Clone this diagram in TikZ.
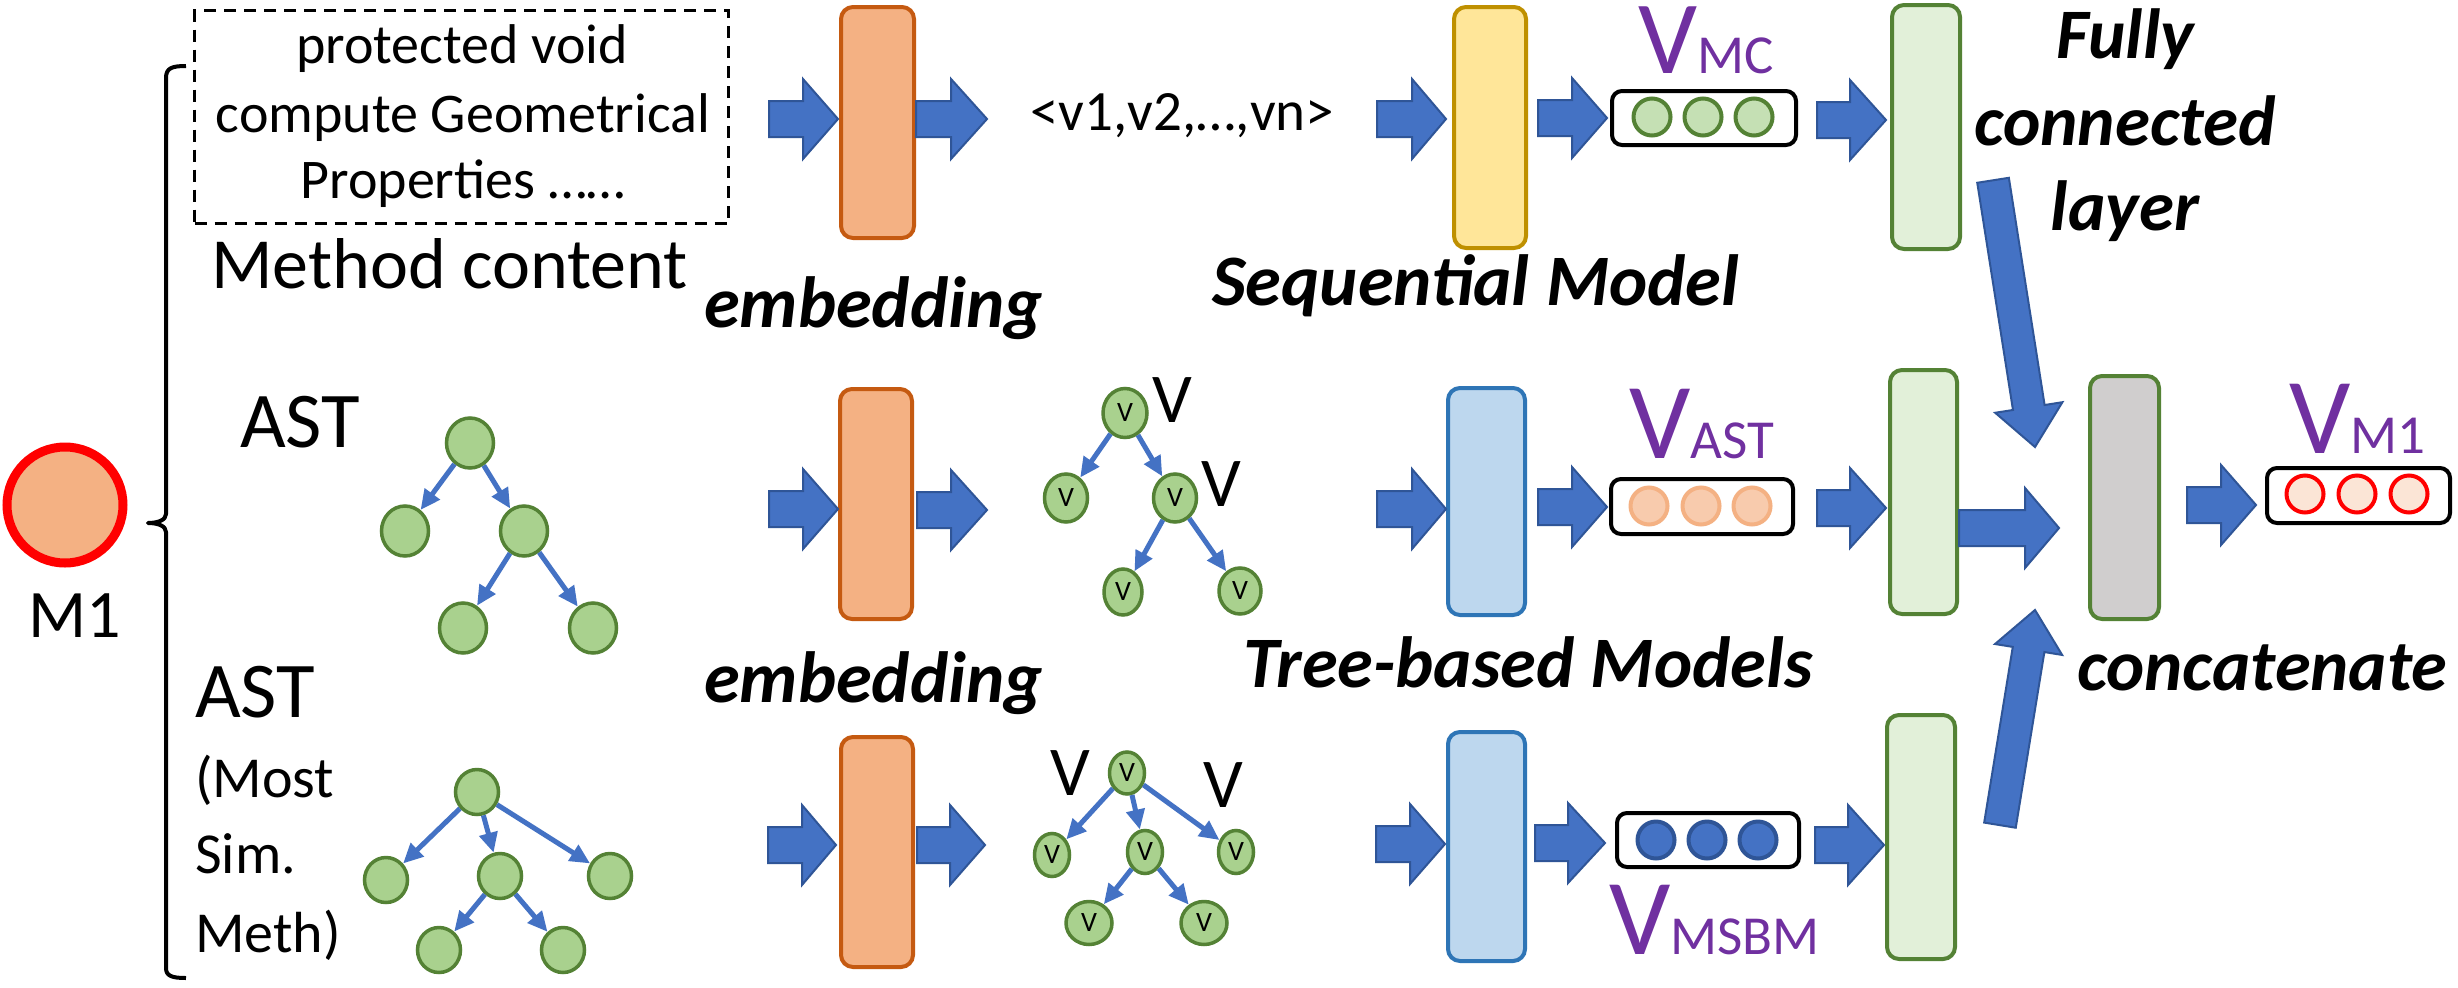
\documentclass[tikz,border=0pt]{standalone}
\usepackage{fontspec}
\setmainfont{Carlito}
\usetikzlibrary{shapes.geometric,arrows.meta}
\definecolor{ablue}{HTML}{4472C4}
\definecolor{ablueD}{HTML}{2F5597}
\definecolor{embF}{HTML}{F4B183}
\definecolor{embD}{HTML}{C55A11}
\definecolor{seqF}{HTML}{FFE699}
\definecolor{seqD}{HTML}{BF9000}
\definecolor{tbF}{HTML}{BDD7EE}
\definecolor{tbD}{HTML}{2E75B6}
\definecolor{fcF}{HTML}{E2F0D9}
\definecolor{gD}{HTML}{548235}
\definecolor{tg}{HTML}{A9D18E}
\definecolor{vg}{HTML}{C5E0B4}
\definecolor{grF}{HTML}{D0CECE}
\definecolor{purp}{HTML}{7030A0}
\definecolor{astF}{HTML}{F8CBAD}
\definecolor{m1F}{HTML}{FBE5D6}
\newcommand{\fsz}[1]{\fontsize{#1}{#1}\selectfont}
\newcommand{\barrow}[4]{\filldraw[fill=ablue,draw=ablueD,line width=2pt] (#1,#4-18) -- (#2,#4-18) -- (#2,#4-40) -- (#3,#4) -- (#2,#4+40) -- (#2,#4+18) -- (#1,#4+18) -- cycle;}
\newcommand{\darrow}[4]{%
  \begin{scope}[shift={(#1,#2)},rotate=#3]
  \filldraw[fill=ablue,draw=ablueD,line width=2pt] (-#4,-16) -- (-40,-16) -- (-40,-34) -- (0,0) -- (-40,34) -- (-40,16) -- (-#4,16) -- cycle;
  \end{scope}}
\tikzset{
  txt/.style={inner sep=0pt,anchor=base west},
  ctr/.style={inner sep=0pt,anchor=base},
  lbl/.style={txt,font={\bfseries\itshape\fsz{72.5}}},
  blk/.style n args={4}{draw=#3,fill=#4,rounded corners=12pt,line width=4pt,minimum width=#1,minimum height=#2,inner sep=0pt},
  vbox/.style 2 args={draw=black,rounded corners=10pt,line width=4pt,minimum width=#1,minimum height=#2,inner sep=0pt},
  vc/.style 2 args={circle,draw=#1,fill=#2,line width=4pt,minimum size=37pt,inner sep=0pt},
  tn/.style 2 args={ellipse,draw=gD,fill=tg,line width=3.5pt,minimum width=#1,minimum height=#2,inner sep=0pt},
  tedge/.style={draw=ablue,line width=5pt,-{Triangle[length=20pt,width=18pt]}},
}
\begin{document}
\begin{tikzpicture}[x=1pt,y=-1pt]
\useasboundingbox (0,0) rectangle (2458,988);
\fill[white] (0,0) rectangle (2458,988);

% M1 and bracket
\node[circle,draw=red,fill=embF,line width=9pt,minimum size=116pt,inner sep=0pt] (m1) at (65,505) {};
\node[ctr,font=\fsz{68}] (m1t) at (75,637) {M1};
\draw[line width=4pt,line join=round] (186,66) .. controls (172,66) and (166,68) .. (166,78) -- (166,514) .. controls (166,520) and (158,523) .. (148,523) .. controls (158,523) and (166,526) .. (166,532) -- (166,968) .. controls (166,976) and (172,978) .. (186,978);

% row 1 input
\node[draw,dash pattern=on 12pt off 8pt,line width=3pt,minimum width=534pt,minimum height=213pt,inner sep=0pt] (code) at (461.5,117) {};
\node[ctr,font=\fsz{56}] (c1) at (462,63) {protected void};
\node[ctr,font=\fsz{56}] (c2) at (463,132) {compute Geometrical};
\node[ctr,font=\fsz{56}] (c3) at (463,198) {Properties ……};
\node[txt,font=\fsz{72}] (mc) at (211,288) {Method content};

% row 2 / 3 inputs
\node[txt,font=\fsz{79}] (ast1) at (240,447) {AST};
\node[txt,font=\fsz{79}] (ast2) at (195,717) {AST};
\node[txt,font=\fsz{58}] (ms1) at (195,797) {(Most};
\node[txt,font=\fsz{58}] (ms2) at (195,873) {Sim.};
\node[txt,font=\fsz{58}] (ms3) at (195,952) {Meth)};

% tree 1
\node[tn={47pt}{50pt}] (a0) at (470,443) {};
\node[tn={47pt}{50pt}] (a1) at (405,531) {};
\node[tn={47pt}{50pt}] (a2) at (524,531) {};
\node[tn={47pt}{50pt}] (a3) at (463,628) {};
\node[tn={47pt}{50pt}] (a4) at (593,628) {};
\draw[tedge] (a0) -- (a1);
\draw[tedge] (a0) -- (a2);
\draw[tedge] (a2) -- (a3);
\draw[tedge] (a2) -- (a4);

% tree 3
\node[tn={43pt}{45pt}] (b0) at (477,792) {};
\node[tn={43pt}{45pt}] (b1) at (386,880) {};
\node[tn={43pt}{45pt}] (b2) at (500,876) {};
\node[tn={43pt}{45pt}] (b3) at (610,876) {};
\node[tn={43pt}{45pt}] (b4) at (439,950) {};
\node[tn={43pt}{45pt}] (b5) at (563,950) {};
\draw[tedge] (b0) -- (b1);
\draw[tedge] (b0) -- (b2);
\draw[tedge] (b0) -- (b3);
\draw[tedge] (b2) -- (b4);
\draw[tedge] (b2) -- (b5);

% embedding blocks
\node[blk={73pt}{231pt}{embD}{embF}] (e1) at (877.5,122.5) {};
\node[blk={72pt}{230pt}{embD}{embF}] (e2) at (876,504) {};
\node[blk={72pt}{230pt}{embD}{embF}] (e3) at (877,852) {};
\node[lbl] (emb1) at (704,327) {embedding};
\node[lbl] (emb2) at (704,702) {embedding};

\node[txt,font=\fsz{57}] (seqv) at (1030,130) {<v1,v2,…,vn>};

% tree 2 (embedded)
\node[tn={44pt}{49pt}] (c0) at (1125,413) {\fsz{28}V};
\node[tn={43pt}{48pt}] (c1n) at (1066,498) {\fsz{28}V};
\node[tn={43pt}{48pt}] (c2n) at (1175,498) {\fsz{28}V};
\node[tn={38pt}{46pt}] (c3n) at (1123,592) {\fsz{28}V};
\node[tn={42pt}{46pt}] (c4n) at (1240,591) {\fsz{28}V};
\draw[tedge] (c0) -- (c1n);
\draw[tedge] (c0) -- (c2n);
\draw[tedge] (c2n) -- (c3n);
\draw[tedge] (c2n) -- (c4n);
\node[txt,font=\fsz{70}] (cv1) at (1152,422) {V};
\node[txt,font=\fsz{70}] (cv2) at (1201,506) {V};

% tree 4 (embedded)
\node[tn={35pt}{42pt}] (d0) at (1127,773) {\fsz{28}V};
\node[tn={35pt}{43pt}] (d1) at (1052,855) {\fsz{28}V};
\node[tn={35pt}{43pt}] (d2) at (1145,852) {\fsz{28}V};
\node[tn={35pt}{43pt}] (d3) at (1236,852) {\fsz{28}V};
\node[tn={46pt}{43pt}] (d4) at (1089,923) {\fsz{28}V};
\node[tn={46pt}{43pt}] (d5) at (1204,923) {\fsz{28}V};
\draw[tedge] (d0) -- (d1);
\draw[tedge] (d0) -- (d2);
\draw[tedge] (d0) -- (d3);
\draw[tedge] (d2) -- (d4);
\draw[tedge] (d2) -- (d5);
\node[txt,font=\fsz{70}] (dv1) at (1050,795) {V};
\node[txt,font=\fsz{70}] (dv2) at (1203,807) {V};

% models
\node[blk={72pt}{241pt}{seqD}{seqF}] (seq) at (1490,127.5) {};
\node[blk={77pt}{227pt}{tbD}{tbF}] (tb1) at (1486.5,501.5) {};
\node[blk={77pt}{229pt}{tbD}{tbF}] (tb2) at (1486.5,846.5) {};
\node[lbl] (seql) at (1212,305) {Sequential Model};
\node[lbl] (tbl) at (1243,687) {Tree-based Models};

% vectors
\node[vbox={184pt}{54pt}] (vmc) at (1704,118) {};
\node[vc={gD}{vg}] (vmc1) at (1652,117) {};
\node[vc={gD}{vg}] (vmc2) at (1703,117) {};
\node[vc={gD}{vg}] (vmc3) at (1754,117) {};
\node[txt,text=purp] (lmc) at (1638,73) {\fsz{104}\smash{V}\fsz{55}MC};

\node[vbox={182pt}{55pt}] (vast) at (1702,506.5) {};
\node[vc={embF}{astF}] (vast1) at (1649,506) {};
\node[vc={embF}{astF}] (vast2) at (1701,506) {};
\node[vc={embF}{astF}] (vast3) at (1752,506) {};
\node[txt,text=purp] (last) at (1629,458) {\fsz{108}V\fsz{55}AST};

\node[vbox={182pt}{54pt}] (vms) at (1708,840) {};
\node[vc={ablueD}{ablue}] (vms1) at (1656,840) {};
\node[vc={ablueD}{ablue}] (vms2) at (1707,840) {};
\node[vc={ablueD}{ablue}] (vms3) at (1758,840) {};
\node[txt,text=purp] (lms) at (1609,954) {\fsz{108}V\fsz{55}MSBM};

% fully connected + concat
\node[blk={68pt}{244pt}{gD}{fcF}] (fc1) at (1926,127) {};
\node[blk={67pt}{244pt}{gD}{fcF}] (fc2) at (1923.5,492) {};
\node[blk={68pt}{244pt}{gD}{fcF}] (fc3) at (1921,837) {};
\node[blk={69pt}{243pt}{gD}{grF}] (cat) at (2124.5,497.5) {};
\node[ctr,font={\bfseries\itshape\fsz{71}}] (f1) at (2125,58) {Fully};
\node[ctr,font={\bfseries\itshape\fsz{71}}] (f2) at (2125,145) {connected};
\node[ctr,font={\bfseries\itshape\fsz{71}}] (f3) at (2125,230) {layer};
\node[lbl] (catl) at (2077,690) {concatenate};

\node[vbox={183pt}{55pt}] (vm1) at (2358.5,495.5) {};
\node[vc={red}{m1F}] (vm11) at (2305,494) {};
\node[vc={red}{m1F}] (vm12) at (2357,494) {};
\node[vc={red}{m1F}] (vm13) at (2409,494) {};
\node[txt,text=purp] (lm1) at (2289,453) {\fsz{108}V\fsz{55}M1};

% block arrows
\barrow{769}{803}{838}{119}
\barrow{916}{951}{987}{119}
\barrow{1377}{1412}{1446}{119}
\barrow{1538}{1572}{1607}{118}
\barrow{1817}{1850}{1886}{120}

\barrow{769}{803}{838}{509}
\barrow{917}{951}{987}{510}
\barrow{1377}{1412}{1446}{509}
\barrow{1538}{1572}{1607}{507}
\barrow{1817}{1850}{1886}{508}
\barrow{1959}{2025}{2059}{528}
\barrow{2187}{2221}{2256}{505}

\barrow{768}{802}{836}{845}
\barrow{917}{950}{985}{845}
\barrow{1376}{1410}{1445}{844}
\barrow{1535}{1568}{1605}{843}
\barrow{1815}{1848}{1884}{845}

\darrow{2035}{447}{-81.06}{270}
\darrow{2035}{610}{80.75}{218}
\end{tikzpicture}
\end{document}
